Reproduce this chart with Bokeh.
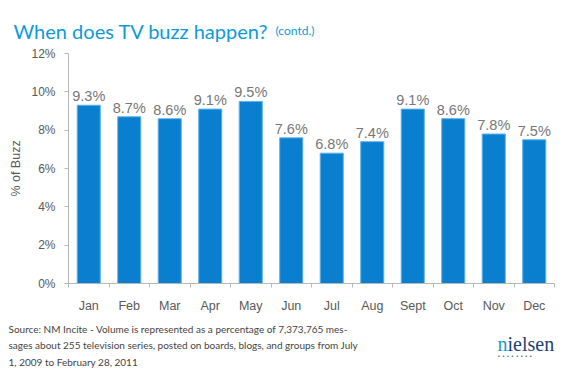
from bokeh.plotting import figure
from bokeh.layouts import column
from bokeh.models import FixedTicker, PrintfTickFormatter, ColumnDataSource, Range1d
from bokeh.core.properties import value
from bokeh.embed import file_html
from bokeh.resources import INLINE

months = ["Jan", "Feb", "Mar", "Apr", "May", "Jun", "Jul", "Aug", "Sept", "Oct", "Nov", "Dec"]
buzz = [9.3, 8.7, 8.6, 9.1, 9.5, 7.6, 6.8, 7.4, 9.1, 8.6, 7.8, 7.5]
y_ticks = [0, 2, 4, 6, 8, 10, 12]
title = "When does TV buzz happen?"
subtitle = "(contd.)"
source_lines = ["Source: NM Incite - Volume is represented as a percentage of  7,373,765 mes-",
                "sages about  255 television series, posted on boards, blogs, and groups from July",
                "1, 2009 to February 28, 2011"]

W = 562
HEAD_H, MAIN_H, FOOT_H = 45, 270, 62


def text_panel(h):
    f = figure(width=W, height=h, output_backend="svg", toolbar_location=None,
               x_range=Range1d(0, W), y_range=Range1d(h, 0),
               x_axis_type=None, y_axis_type=None, min_border=0)
    f.outline_line_color = None
    f.xgrid.visible = False
    f.ygrid.visible = False
    f.frame_align = False
    return f


# header
head = text_panel(HEAD_H)
head.text(x=[13], y=[30], text=[title], text_font=value("Lato"), text_font_size="20px",
          text_color="#0d9ad9", text_baseline="alphabetic")
head.text(x=[275], y=[30], text=[subtitle], text_font=value("Lato"), text_font_size="12px",
          text_color="#0d9ad9", text_baseline="alphabetic")

# main chart
xs = [i + 0.5 for i in range(len(months))]
src = ColumnDataSource(dict(x=xs, y=buzz, lab=["%.1f%%" % v for v in buzz]))

p = figure(width=W, height=MAIN_H, output_backend="svg", toolbar_location=None,
           x_range=Range1d(0, len(months)), y_range=Range1d(0, 12),
           min_border_left=68, min_border_right=8, min_border_top=8, min_border_bottom=30)
p.outline_line_color = None
p.xgrid.visible = False
p.ygrid.visible = False

p.vbar(x="x", top="y", width=0.57, source=src, fill_color="#0a7fd0", line_color="#5fb3ea", line_width=1)
p.text(x="x", y="y", text="lab", source=src, text_align="center", text_baseline="bottom",
       y_offset=-1, text_font_size="14.5px", text_color="#777777", text_font=value("Liberation Sans"))

axis_col = "#b8b8b8"
lab_col = "#595959"
xa = p.xaxis[0]
xa.ticker = FixedTicker(ticks=xs, minor_ticks=list(range(len(months) + 1)))
xa.major_label_overrides = {x: m for x, m in zip(xs, months)}
xa.major_tick_line_color = None
xa.major_tick_in = 0
xa.major_tick_out = 0
xa.minor_tick_line_color = axis_col
xa.minor_tick_in = 0
xa.minor_tick_out = 4
xa.axis_line_color = axis_col
xa.major_label_text_font = "Liberation Sans"
xa.major_label_text_font_size = "12.5px"
xa.major_label_text_color = lab_col
xa.major_label_standoff = 11

ya = p.yaxis[0]
ya.ticker = FixedTicker(ticks=y_ticks, minor_ticks=[])
ya.formatter = PrintfTickFormatter(format="%d%%")
ya.major_tick_in = 0
ya.major_tick_out = 4
ya.major_tick_line_color = axis_col
ya.axis_line_color = axis_col
ya.major_label_text_font = "Liberation Sans"
ya.major_label_text_font_size = "12px"
ya.major_label_text_color = lab_col
ya.major_label_standoff = 9
ya.axis_label = "% of Buzz"
ya.axis_label_text_font = "Liberation Sans"
ya.axis_label_text_font_style = "normal"
ya.axis_label_text_font_size = "12.5px"
ya.axis_label_text_color = lab_col
ya.axis_label_standoff = 5

# footer (page y = 315 + local y)
foot = text_panel(FOOT_H)
foot.text(x=[8] * 3, y=[13 + i * 16.8 for i in range(3)], text=source_lines,
          text_font=value("Lato"), text_font_size="10px", text_color="#444444",
          text_baseline="alphabetic")
foot.text(x=[497], y=[28], text=["n"], text_font=value("Liberation Serif"), text_font_size="20px",
          text_color="#1a9ad7", text_baseline="alphabetic")
foot.text(x=[507], y=[28], text=["ielsen"], text_font=value("Liberation Serif"), text_font_size="20px",
          text_color="#1f3f73", text_baseline="alphabetic")
foot.text(x=[497], y=[40], text=["• • • • • • • •"], text_font=value("DejaVu Sans"), text_font_size="5px",
          text_color="#1f3f73", text_baseline="alphabetic")

layout = column(head, p, foot, spacing=0)
open("out.html", "w").write(file_html(layout, INLINE))
